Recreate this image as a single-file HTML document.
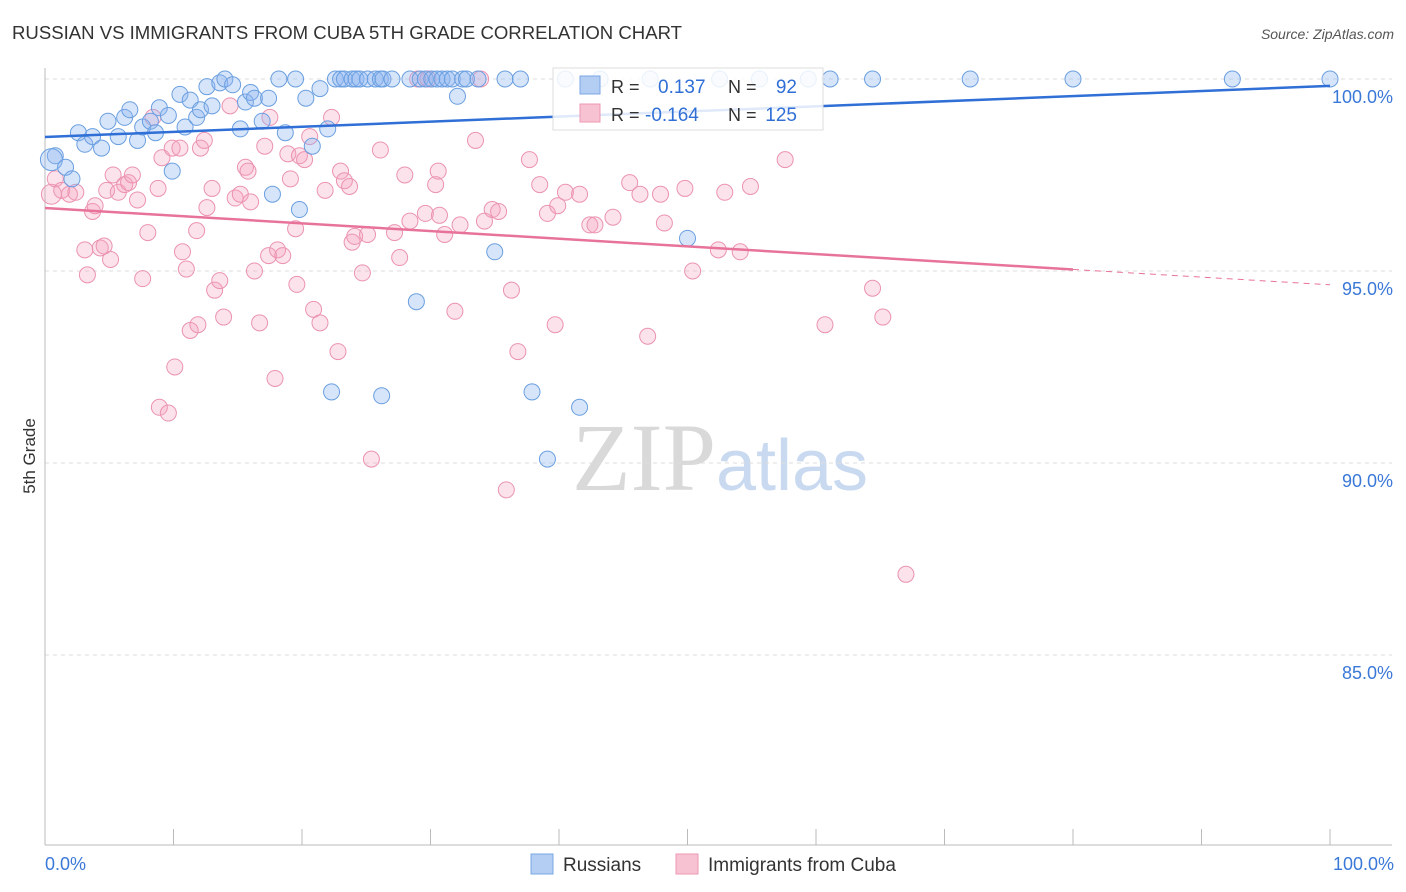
<!DOCTYPE html>
<html><head><meta charset="utf-8"><style>
body{margin:0;background:#fff;font-family:"Liberation Sans",sans-serif;}
svg{display:block}
</style></head><body>
<svg id="chart" width="1406" height="892">
<text x="12" y="39" font-size="18" fill="#333" textLength="670" lengthAdjust="spacingAndGlyphs">RUSSIAN VS IMMIGRANTS FROM CUBA 5TH GRADE CORRELATION CHART</text>
<text x="1394" y="39" font-size="14" fill="#555" font-style="italic" text-anchor="end">Source: ZipAtlas.com</text>
<text x="35" y="456" font-size="17" fill="#333" transform="rotate(-90 35 456)" text-anchor="middle">5th Grade</text>
<text x="720" y="490" font-size="96" fill="#ddd" text-anchor="middle" font-family="Liberation Serif"><tspan fill="#d9d9d9">ZIP</tspan><tspan fill="#c8d9f0" font-family="Liberation Sans" font-size="72">atlas</tspan></text>
<g id="grid"></g><g id="axes"></g><g id="pts"></g><g id="trend"></g>
<g>
<rect x="553" y="68" width="270" height="62" fill="#fff" fill-opacity="0.85" stroke="#ddd"/>
<rect x="580" y="76" width="20" height="18" fill="#b3cdf3" stroke="#7aa7e6"/>
<rect x="580" y="104" width="20" height="18" fill="#f7c2d2" stroke="#ec98b3"/>
<text x="611" y="93" font-size="18" fill="#333">R =</text>
<text x="658" y="93" font-size="19" fill="#2f6fd6">0.137</text>
<text x="728" y="93" font-size="18" fill="#333">N =</text>
<text x="797" y="93" font-size="19" fill="#2f6fd6" text-anchor="end">92</text>
<text x="611" y="121" font-size="18" fill="#333">R =</text>
<text x="645" y="121" font-size="19" fill="#2f6fd6">-0.164</text>
<text x="728" y="121" font-size="18" fill="#333">N =</text>
<text x="797" y="121" font-size="19" fill="#2f6fd6" text-anchor="end">125</text>
</g>
<g>
<rect x="531" y="854" width="22" height="20" fill="#b3cdf3" stroke="#7aa7e6"/>
<text x="563" y="871" font-size="19" fill="#333">Russians</text>
<rect x="676" y="854" width="22" height="20" fill="#f7c2d2" stroke="#ec98b3"/>
<text x="708" y="871" font-size="19" fill="#333">Immigrants from Cuba</text>
</g>
</svg>
<script>
const blueX=[0.8,0.5,1.6,2.1,2.6,3.1,3.7,4.4,4.9,5.7,6.2,6.6,7.2,7.6,8.2,8.6,8.9,9.6,9.9,10.5,10.9,11.3,11.8,12.1,12.6,13.0,13.6,14.0,14.6,15.2,15.6,16.0,16.3,16.9,17.4,17.7,18.2,18.7,19.5,19.8,20.3,20.8,21.4,22.0,22.6,23.0,23.3,23.9,24.2,24.5,25.1,25.7,26.1,26.3,27.0,28.4,28.9,29.2,29.6,30.1,30.5,30.9,31.3,31.7,32.1,32.5,32.8,33.7,35.0,35.8,37.0,37.9,39.1,40.5,41.6,43.2,47.1,50.0,52.5,55.6,59.4,61.1,64.4,72.0,80.0,92.4,100,22.3,26.2];
const blueY=[98.0,97.9,97.7,97.4,98.6,98.3,98.5,98.2,98.9,98.5,99.0,99.2,98.4,98.75,98.9,98.6,99.25,99.05,97.6,99.6,98.75,99.45,99.0,99.2,99.8,99.3,99.9,100,99.85,98.7,99.4,99.65,99.5,98.9,99.5,97.0,100,98.6,100,96.6,99.5,98.25,99.75,98.7,100,100,100,100,100,100,100,100,100,100,100,100,94.2,100,100,100,100,100,100,100,99.55,100,100,100,95.5,100,100,91.85,90.1,100,91.45,100,100,95.85,100,100,100,100,100,100,100,100,100,91.85,91.75];
const pinkX=[0.5,0.8,1.3,1.9,2.4,3.1,3.3,3.7,3.9,4.3,4.6,4.8,5.1,5.3,5.7,6.2,6.5,6.8,7.2,7.6,8.0,8.4,8.8,9.1,8.9,9.6,10.1,9.9,10.5,10.7,11.0,11.3,11.8,11.9,12.1,12.4,12.6,13.0,13.2,13.6,13.9,14.4,14.8,15.2,15.6,15.8,16.0,16.3,16.7,17.1,17.4,17.5,17.9,18.1,18.5,18.9,19.1,19.5,19.6,19.8,20.2,20.6,20.9,21.4,21.8,22.3,22.8,23.0,23.3,23.7,23.9,24.1,24.7,25.1,25.4,26.1,27.2,27.6,28.0,28.4,29.0,29.6,29.8,30.4,30.7,30.6,31.1,31.9,32.3,33.5,33.9,34.2,34.8,35.3,35.9,36.3,36.8,37.7,38.5,39.1,39.7,39.9,40.5,41.6,42.4,42.8,44.2,45.5,46.3,46.9,47.9,48.2,49.8,50.4,52.4,52.9,54.1,54.9,57.6,60.7,64.4,65.2,67.0];
const pinkY=[97.0,97.4,97.1,97.0,97.05,95.55,94.9,96.55,96.7,95.6,95.65,97.1,95.3,97.5,97.05,97.25,97.3,97.5,96.85,94.8,96.0,99.0,97.15,97.95,91.45,91.3,92.5,98.2,98.2,95.5,95.05,93.45,96.05,93.6,98.2,98.4,96.65,97.15,94.5,94.75,93.8,99.3,96.9,97.0,97.7,97.6,96.8,95.0,93.65,98.25,95.4,99.0,92.2,95.55,95.4,98.05,97.4,96.1,94.65,98.0,97.9,98.5,94.0,93.65,97.1,99.0,92.9,97.6,97.35,97.2,95.75,95.9,94.95,95.95,90.1,98.15,96.0,95.35,97.5,96.3,100,96.5,100,97.25,96.45,97.6,95.95,93.95,96.2,98.4,100,96.3,96.6,96.55,89.3,94.5,92.9,97.9,97.25,96.5,93.6,96.7,97.05,97.0,96.2,96.2,96.4,97.3,97.0,93.3,97.0,96.25,97.15,95.0,95.55,97.05,95.5,97.2,97.9,93.6,94.55,93.8,87.1];
const blueTrend=[98.49,99.82];
const pinkTrend=[96.64,94.64];
const yTicks=[100,95,90,85];
const xTickLabels=["0.0%","100.0%"];
const NS="http://www.w3.org/2000/svg";
const X0=45,X1=1330,Y0=845,Ytop=79;
const xs=v=>X0+(X1-X0)*v/100;
const ys=v=>Y0-(Y0-Ytop)*(v-80.05)/(100-80.05);
function mk(t,a,p){const e=document.createElementNS(NS,t);for(const k in a)e.setAttribute(k,a[k]);p.appendChild(e);return e;}
const grid=document.getElementById('grid'),axes=document.getElementById('axes'),pts=document.getElementById('pts'),tr=document.getElementById('trend');
yTicks.forEach(v=>{
 const l=mk('line',{x1:X0,x2:1392,y1:ys(v),y2:ys(v),stroke:'#ddd','stroke-dasharray':'4,4'},grid);
 
 
 const t=mk('text',{x:1393,y:ys(v)+24,'font-size':18,fill:'#3a78d8','text-anchor':'end'},grid);
 t.textContent=v.toFixed(1)+'%';
 
 
});
const ya=mk('line',{x1:X0,x2:X0,y1:68,y2:Y0,stroke:'#bbb'},axes);


const xa=mk('line',{x1:X0,x2:1392,y1:Y0,y2:Y0,stroke:'#bbb'},axes);


for(let i=0;i<=10;i++){
 const tk=mk('line',{x1:xs(i*10),x2:xs(i*10),y1:829,y2:Y0,stroke:'#bbb'},axes);
 
 
}
[[0,'start',45],[1,'end',1394]].forEach(([i,a,x])=>{
 const t=mk('text',{x:x,y:870,'font-size':18,fill:'#3a78d8','text-anchor':a},axes);
 t.textContent=xTickLabels[i];
 
 
});
pinkX.forEach((x,i)=>{
 const c=mk('circle',{cx:xs(x),cy:ys(pinkY[i]),r:i==0?10:8,fill:'rgba(244,160,190,0.3)',stroke:'#eb93b1','stroke-width':1},pts);
 
 
});
blueX.forEach((x,i)=>{
 const c=mk('circle',{cx:xs(x),cy:ys(blueY[i]),r:i==1?11:8,fill:'rgba(140,180,240,0.35)',stroke:'#6a9fe0','stroke-width':1},pts);
 
 
});
const bl=mk('line',{x1:xs(0),y1:ys(blueTrend[0]),x2:xs(100),y2:ys(blueTrend[1]),stroke:'#2f6fd6','stroke-width':2.5},tr);


const pAt=v=>pinkTrend[0]+(pinkTrend[1]-pinkTrend[0])*v/100;
const pl=mk('line',{x1:xs(0),y1:ys(pAt(0)),x2:xs(80),y2:ys(pAt(80)),stroke:'#e8739a','stroke-width':2.5},tr);


const pd=mk('line',{x1:xs(80),y1:ys(pAt(80)),x2:xs(100),y2:ys(pAt(100)),stroke:'#e8739a','stroke-width':1,'stroke-dasharray':'6,5'},tr);


</script>
</body></html>
